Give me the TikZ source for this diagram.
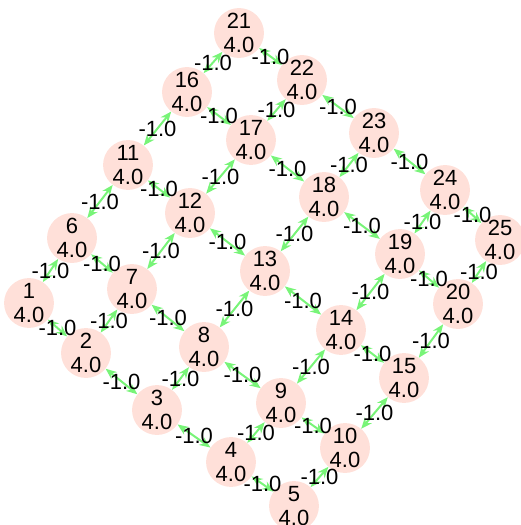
\documentclass[tikz,border=0pt]{standalone}
\usepackage{fontspec}
\setmainfont{Liberation Sans}
\usetikzlibrary{arrows.meta}
\definecolor{nodepink}{HTML}{FFE0D9}
\definecolor{edgegreen}{HTML}{78F478}

\begin{document}
\begin{tikzpicture}[x=1pt,y=-1pt,
  vert/.style={circle, fill=nodepink, minimum size=46pt, inner sep=0pt, align=center, font=\fontsize{22}{24}\selectfont},
  link/.style={edgegreen, line width=2pt, {Stealth[length=11pt,width=9pt]}-{Stealth[length=11pt,width=9pt]}},
  wt/.style={font=\fontsize{22}{24}\selectfont, text=black, inner sep=0pt}]
\useasboundingbox (0,0) rectangle (520,525);
\foreach \n/\x/\y in {1/29/303, 2/86/353, 3/157/410, 4/231/462, 5/294/506,
    6/72/238, 7/132/289, 8/204/347, 9/281/403, 10/345/448,
    11/128/165, 12/190/213, 13/265/271, 14/341/330, 15/404/378,
    16/187/92, 17/251/140, 18/324/197, 19/400/254, 20/458/304,
    21/239/33, 22/302/80, 23/374/133, 24/445/190, 25/500/240}
  \node[vert] (n\n) at (\x,\y) {\n\\4.0};
% rows, then columns
\foreach \a/\b in {1/2, 2/3, 3/4, 4/5, 6/7, 7/8, 8/9, 9/10, 11/12, 12/13, 13/14, 14/15,
    16/17, 17/18, 18/19, 19/20, 21/22, 22/23, 23/24, 24/25,
    1/6, 6/11, 11/16, 16/21, 2/7, 7/12, 12/17, 17/22, 3/8, 8/13, 13/18, 18/23,
    4/9, 9/14, 14/19, 19/24, 5/10, 10/15, 15/20, 20/25}
  \draw[link] (n\a) -- node[wt] {-1.0} (n\b);
\end{tikzpicture}
\end{document}
